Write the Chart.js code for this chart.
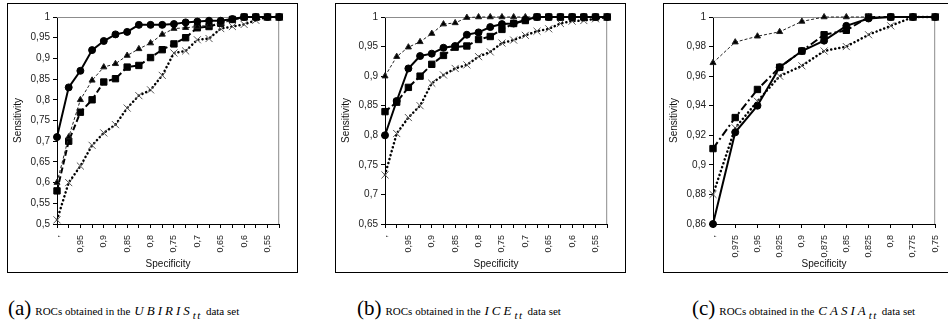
<!DOCTYPE html>
<html>
<head>
<meta charset="utf-8">
<script src="https://cdn.jsdelivr.net/npm/chart.js@4/dist/chart.umd.min.js"></script>
<style>
  body { margin: 0; width: 948px; height: 331px; overflow: hidden; background: #fff; position: relative; }
  .box { position: absolute; top: 3px; width: 289px; height: 268px; border: 1px solid #000; }
  .box canvas { display: block; }
  .cap { position: absolute; top: 296px; font-family: "Liberation Serif", serif; white-space: nowrap; color: #000; }
  .cap .l { font-size: 21px; }
  .cap .s { font-size: 11px; }
  .cap .m { font-size: 13px; font-style: italic; letter-spacing: 3px; }
  .cap sub { font-size: 11px; font-style: italic; letter-spacing: 1.5px; vertical-align: -4px; }
</style>
</head>
<body>

<div class="box" style="left:7px"><canvas id="chartA" width="289" height="268"></canvas></div>
<div class="box" style="left:335px"><canvas id="chartB" width="289" height="268"></canvas></div>
<div class="box" style="left:663px"><canvas id="chartC" width="289" height="268"></canvas></div>

<div class="cap" style="left:8px"><span class="l">(a)</span> <span class="s">ROCs obtained in the</span> <span class="m">UBIRIS</span><sub>tt</sub> <span class="s">data set</span></div>
<div class="cap" style="left:357px"><span class="l">(b)</span> <span class="s">ROCs obtained in the</span> <span class="m">ICE</span><sub>tt</sub> <span class="s">data set</span></div>
<div class="cap" style="left:692px"><span class="l">(c)</span> <span class="s">ROCs obtained in the</span> <span class="m">CASIA</span><sub>tt</sub> <span class="s">data set</span></div>

<script>
// specificity categories (x axis)
const specAB = [',', '0,975', '0,95', '0,925', '0,9', '0,875', '0,85', '0,825', '0,8', '0,775',
  '0,75', '0,725', '0,7', '0,675', '0,65', '0,625', '0,6', '0,575', '0,55', '0,525'];
const specC = [',', '0,975', '0,95', '0,925', '0,9', '0,875', '0,85', '0,825', '0,8', '0,775', '0,75'];

// (a) UBIRIS
const aCircle = [0.71, 0.83, 0.87, 0.92, 0.942, 0.958, 0.964, 0.981, 0.981, 0.981, 0.983, 0.987, 0.989, 0.991, 0.991, 0.995, 1, 1, 1, 1];
const aTriangle = [0.60, 0.71, 0.80, 0.847, 0.879, 0.887, 0.907, 0.923, 0.937, 0.958, 0.972, 0.974, 0.977, 0.98, 0.985, 0.992, 0.998, 1, 1, 1];
const aSquare = [0.58, 0.70, 0.77, 0.80, 0.843, 0.851, 0.879, 0.883, 0.902, 0.921, 0.935, 0.95, 0.974, 0.977, 0.985, 0.994, 1, 1, 1, 1];
const aCross = [0.51, 0.60, 0.64, 0.69, 0.72, 0.74, 0.78, 0.81, 0.824, 0.859, 0.913, 0.918, 0.945, 0.948, 0.972, 0.977, 0.982, 0.992, 1, 1];

// (b) ICE
const bCircle = [0.80, 0.858, 0.913, 0.934, 0.938, 0.948, 0.951, 0.97, 0.974, 0.983, 0.988, 0.989, 0.995, 1, 1, 1, 1, 1, 1, 1];
const bTriangle = [0.90, 0.933, 0.949, 0.958, 0.972, 0.988, 0.99, 0.999, 1, 1, 1, 1, 1, 1, 1, 1, 1, 1, 1, 1];
const bSquare = [0.84, 0.856, 0.881, 0.90, 0.92, 0.935, 0.949, 0.951, 0.962, 0.967, 0.979, 0.989, 0.994, 1, 1, 1, 1, 1, 1, 1];
const bCross = [0.733, 0.803, 0.83, 0.85, 0.888, 0.902, 0.913, 0.919, 0.933, 0.941, 0.956, 0.961, 0.969, 0.976, 0.98, 0.989, 0.993, 0.994, 0.997, 1];

// (c) CASIA
const cCircle = [0.86, 0.922, 0.940, 0.966, 0.977, 0.984, 0.994, 0.999, 1, 1, 1];
const cTriangle = [0.969, 0.983, 0.987, 0.990, 0.997, 1, 1, 1, 1, 1, 1];
const cSquare = [0.911, 0.932, 0.951, 0.966, 0.977, 0.988, 0.991, 1, 1, 1, 1];
const cCross = [0.88, 0.925, 0.943, 0.960, 0.967, 0.977, 0.980, 0.988, 0.994, 1, 1];

// y axis ranges
const yA = { min: 0.5, max: 1, step: 0.05 };
const yB = { min: 0.65, max: 1, step: 0.05 };
const yC = { min: 0.86, max: 1, step: 0.02 };

const sans = 'Liberation Sans, Arial, sans-serif';

// gray frame round the plot area, like excel
const plotFrame = {
  id: 'plotFrame',
  beforeDatasetsDraw(chart) {
    const a = chart.chartArea, ctx = chart.ctx;
    ctx.save();
    ctx.strokeStyle = '#8c8c8c';
    ctx.lineWidth = 1;
    ctx.beginPath();
    ctx.moveTo(a.left, a.top + 0.5);
    ctx.lineTo(a.right - 0.5, a.top + 0.5);
    ctx.lineTo(a.right - 0.5, a.bottom);
    ctx.stroke();
    ctx.restore();
  }
};

function fmt(v) {
  return Number(v.toFixed(3)).toString().replace('.', ',');
}

function makeChart(id, labels, every, circle, tri, sq, cross, y, squareDash) {
  const datasets = [
    { label: 'circle', data: circle, borderColor: '#000', backgroundColor: '#000', borderWidth: 2,
      pointStyle: 'circle', pointRadius: 3.5, pointBorderWidth: 1 },
    { label: 'triangle', data: tri, borderColor: '#222', backgroundColor: '#000', borderWidth: 1,
      borderDash: [3, 2], pointStyle: 'triangle', pointRadius: 3.5, pointBorderWidth: 1 },
    { label: 'square', data: sq, borderColor: '#000', backgroundColor: '#000', borderWidth: 2,
      borderDash: squareDash, pointStyle: 'rect', pointRadius: 4.5, pointBorderWidth: 1 },
    { label: 'cross', data: cross, borderColor: '#000', backgroundColor: '#000', borderWidth: 2.5,
      borderDash: [0.1, 4], borderCapStyle: 'round', pointStyle: 'crossRot', pointRadius: 5,
      pointBorderColor: '#555', pointBorderWidth: 1 }
  ];
  datasets.forEach(d => { d.tension = 0; d.fill = false; d.clip = false; });

  return new Chart(document.getElementById(id), {
    type: 'line',
    data: { labels: labels, datasets: datasets },
    options: {
      responsive: false,
      animation: false,
      layout: { padding: { top: 13, right: 14, bottom: 0, left: 0 } },
      plugins: { legend: { display: false }, tooltip: { enabled: false } },
      scales: {
        x: {
          offset: false,
          afterFit: s => { s.height = 48; },
          border: { color: '#000', width: 1 },
          grid: { drawOnChartArea: false, tickLength: 4, color: '#000' },
          ticks: {
            autoSkip: false, minRotation: 90, maxRotation: 90, padding: 7,
            color: '#222', font: { family: sans, size: 9 },
            callback: function (v, i) { return i % every === 0 ? this.getLabelForValue(v) : ''; }
          },
          title: { display: true, text: 'Specificity', color: '#111',
            font: { family: sans, size: 10 }, padding: { top: 0, bottom: 2 } }
        },
        y: {
          min: y.min, max: y.max,
          afterFit: s => { s.width = 49; },
          border: { color: '#000', width: 1 },
          grid: { drawOnChartArea: false, tickLength: 4, color: '#000' },
          ticks: { stepSize: y.step, padding: 3, color: '#222', font: { family: sans, size: 10 },
            callback: v => fmt(v) },
          title: { display: true, text: 'Sensitivity', color: '#111',
            font: { family: sans, size: 10 }, padding: { top: 4, bottom: 0 } }
        }
      }
    },
    plugins: [plotFrame]
  });
}

makeChart('chartA', specAB, 2, aCircle, aTriangle, aSquare, aCross, yA, [6, 3]);
makeChart('chartB', specAB, 2, bCircle, bTriangle, bSquare, bCross, yB, [6, 3]);
makeChart('chartC', specC, 1, cCircle, cTriangle, cSquare, cCross, yC, [8, 3, 2, 3]);
</script>
</body>
</html>
